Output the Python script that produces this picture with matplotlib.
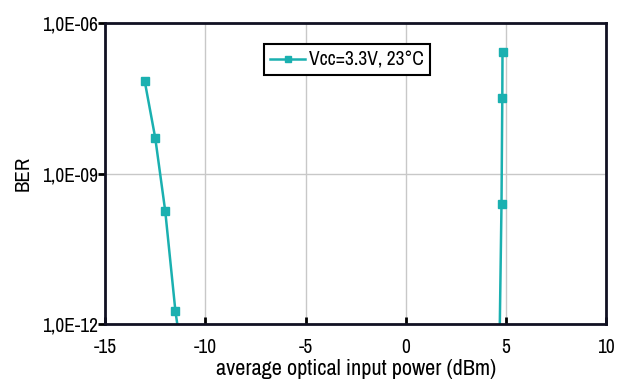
import matplotlib.pyplot as plt
import numpy as np

plt.rcParams['font.family'] = ['Archivo Narrow', 'Liberation Sans', 'DejaVu Sans']

# left branch (sensitivity)
x_left = [-13.04, -12.51, -12.01, -11.50, -11.35]
ber_left = [7.2e-8, 5.2e-9, 1.8e-10, 1.8e-12, 7e-13]
# right branch (overload)
x_right = [4.84, 4.83, 4.79, 4.70]
ber_right = [2.7e-7, 3.3e-8, 2.5e-10, 7e-13]

xticks = [-15, -10, -5, 0, 5, 10]
yticks = [1e-12, 1e-9, 1e-6]
ylabels = ['1,0E-12', '1,0E-09', '1,0E-06']

color = '#1AB0B0'

fig = plt.figure(figsize=(6.33, 3.83), dpi=100)
ax = fig.add_axes([0.1665, 0.1533, 0.7905, 0.7858])

ax.plot(x_left, ber_left, color=color, lw=1.8, marker='s', ms=5.5,
        label='Vcc=3.3V, 23°C')
ax.plot(x_right, ber_right, color=color, lw=1.8, marker='s', ms=5.5)

ax.set_yscale('log')
ax.set_xlim(-15, 10)
ax.set_ylim(1e-12, 1e-6)
ax.set_xticks(xticks)
ax.set_xticklabels([str(t) for t in xticks])
ax.set_yticks(yticks)
ax.set_yticklabels(ylabels)
ax.yaxis.set_minor_locator(plt.NullLocator())

ax.grid(True, color='#c8c8c8', lw=1)
ax.set_axisbelow(True)
for s in ax.spines.values():
    s.set_linewidth(2)
    s.set_color('#111122')
ax.tick_params(axis='x', direction='in', length=5, width=2, labelsize=14, pad=10)
ax.tick_params(axis='y', direction='out', length=5, width=2, labelsize=14, pad=0)

ax.set_xlabel('average optical input power (dBm)', fontsize=16, labelpad=1)
ax.set_ylabel('BER', fontsize=15, labelpad=7)

leg = ax.legend(loc='upper center', bbox_to_anchor=(0.483, 0.962), fontsize=14,
                fancybox=False, framealpha=1, edgecolor='black',
                handlelength=1.8, handletextpad=0.2, borderpad=0.3,
                markerscale=0.8)
leg.get_frame().set_linewidth(1.5)

fig.savefig('out.png', dpi=100)
